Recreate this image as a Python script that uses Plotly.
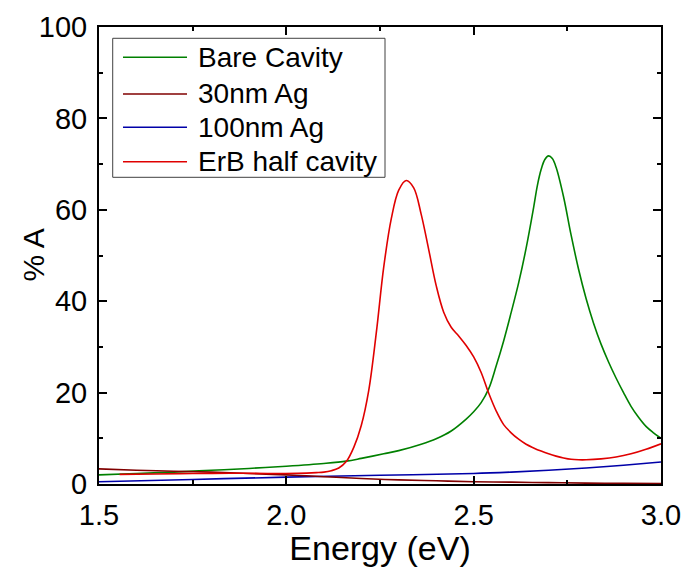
import plotly.graph_objects as go

# ---- data ----
bare_E = [1.50, 1.60, 1.70, 1.80, 1.90, 2.00, 2.10, 2.16, 2.20, 2.26, 2.30, 2.36, 2.40, 2.44, 2.48,
          2.50, 2.52, 2.54, 2.56, 2.58, 2.60, 2.62, 2.64, 2.66, 2.67, 2.68, 2.69, 2.70, 2.71, 2.72,
          2.74, 2.76, 2.78, 2.80, 2.82, 2.84, 2.86, 2.88, 2.90, 2.92, 2.94, 2.96, 2.98, 3.00]
bare_A = [2.0, 2.3, 2.6, 3.0, 3.4, 3.9, 4.5, 5.0, 5.6, 6.6, 7.3, 8.7, 9.9, 11.6, 14.2,
          15.8, 17.8, 20.8, 25.8, 31.3, 37.5, 44.0, 51.6, 60.5, 65.3, 68.8, 71.0, 71.8, 71.2, 69.3,
          62.8, 54.5, 47.0, 40.6, 35.2, 30.6, 26.7, 23.2, 20.0, 17.0, 14.6, 12.6, 11.2, 10.0]

ag30_E = [1.5, 1.6, 1.7, 1.8, 1.9, 2.0, 2.1, 2.2, 2.3, 2.4, 2.5, 2.6, 2.7, 2.8, 2.9, 3.0]
ag30_A = [3.3, 3.0, 2.8, 2.6, 2.3, 2.0, 1.6, 1.2, 0.9, 0.7, 0.5, 0.4, 0.3, 0.2, 0.15, 0.1]

ag100_E = [1.5, 1.75, 2.0, 2.25, 2.5, 2.6, 2.7, 2.8, 2.9, 3.0]
ag100_A = [0.5, 1.0, 1.5, 1.9, 2.3, 2.6, 3.0, 3.5, 4.1, 4.8]

erb_E = [1.555, 1.65, 1.75, 1.85, 1.95, 2.03, 2.08, 2.10, 2.12, 2.14, 2.16, 2.18, 2.20, 2.22,
         2.24, 2.26, 2.28, 2.30, 2.32, 2.34, 2.36, 2.38, 2.40, 2.42, 2.44, 2.46, 2.48, 2.50,
         2.52, 2.54, 2.56, 2.58, 2.60, 2.62, 2.64, 2.66, 2.68, 2.70, 2.72, 2.74, 2.76, 2.78,
         2.80, 2.84, 2.88, 2.92, 2.96, 3.00]
erb_A = [2.1, 2.2, 2.3, 2.35, 2.3, 2.35, 2.5, 2.6, 2.9, 3.5, 4.9, 8.0, 12.8, 20.5,
         33.0, 47.5, 58.0, 64.3, 66.4, 64.8, 59.0, 51.3, 43.4, 37.6, 34.3, 32.4, 30.3, 27.8,
         24.4, 19.9, 16.0, 13.0, 11.2, 9.8, 8.7, 7.9, 7.2, 6.6, 6.1, 5.7, 5.4, 5.3,
         5.3, 5.5, 5.9, 6.6, 7.6, 8.8]

names = ["Bare Cavity", "30nm Ag", "100nm Ag", "ErB half cavity"]
colors = ["#008000", "#800000", "#0000A8", "#E00000"]
series = [(bare_E, bare_A), (ag30_E, ag30_A), (ag100_E, ag100_A), (erb_E, erb_A)]

x_ticks = [1.5, 2.0, 2.5, 3.0]
y_ticks = [0, 20, 40, 60, 80, 100]

FONT = "Liberation Sans, Arial, sans-serif"

fig = go.Figure()
for idx in [0, 2, 1, 3]:
    e, a = series[idx]
    fig.add_trace(go.Scatter(x=e, y=a, mode="lines", name=names[idx],
                             line=dict(color=colors[idx], width=1.6, shape="spline", smoothing=1.0),
                             showlegend=False))

axis_common = dict(showline=True, linewidth=2, linecolor="black", mirror="allticks",
                   ticks="inside", ticklen=8, tickwidth=2, tickcolor="black",
                   showgrid=False, zeroline=False, automargin=False,
                   tickfont=dict(family=FONT, size=29, color="black"))

fig.update_xaxes(range=[1.5, 3.0], tickvals=x_ticks, ticktext=[f"{v:.1f}" for v in x_ticks],
                 minor=dict(ticks="inside", ticklen=4, tickwidth=1.5, tickcolor="black",
                            tickvals=[1.75, 2.25, 2.75], showgrid=False),
                 title=dict(text="Energy (eV)", font=dict(family=FONT, size=34, color="black"), standoff=4),
                 ticklabelstandoff=4,
                 **axis_common)
fig.update_yaxes(range=[0, 100], tickvals=y_ticks, ticktext=[str(v) for v in y_ticks],
                 minor=dict(ticks="inside", ticklen=4, tickwidth=1.5, tickcolor="black",
                            tickvals=[10, 30, 50, 70, 90], showgrid=False),
                 ticklabelstandoff=4,
                 **axis_common)

# y-axis title placed as text
fig.add_annotation(xref="paper", yref="paper", x=-0.1174, y=0.5, text="% A", textangle=-90,
                   showarrow=False, xanchor="center", yanchor="middle",
                   font=dict(family=FONT, size=30, color="black"))

# ---- manual legend (paper coordinates) ----
box_x0, box_x1, box_y0, box_y1 = 0.0244, 0.5089, 0.6711, 0.9753
fig.add_shape(type="rect", xref="paper", yref="paper", x0=box_x0, x1=box_x1, y0=box_y0, y1=box_y1,
              line=dict(color="#404040", width=1), fillcolor="white", layer="above")
row_y = [0.9337, 0.8534, 0.7805, 0.7053]
for i in range(4):
    fig.add_shape(type="line", xref="paper", yref="paper", x0=0.0427, x1=0.1566, y0=row_y[i], y1=row_y[i],
                  line=dict(color=colors[i], width=1.6), layer="above")
    fig.add_annotation(xref="paper", yref="paper", x=0.1726, y=row_y[i], text=names[i],
                       showarrow=False, xanchor="left", yanchor="middle",
                       font=dict(family=FONT, size=28, color="black"))

fig.update_layout(width=684, height=567, margin=dict(l=99, r=23, t=27, b=83),
                  plot_bgcolor="white", paper_bgcolor="white", showlegend=False)

fig.write_html("out.html")
